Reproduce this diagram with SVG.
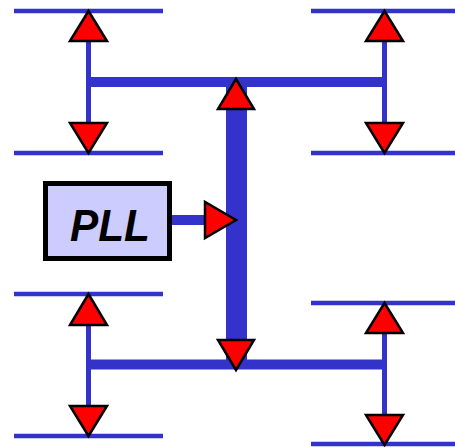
<svg xmlns="http://www.w3.org/2000/svg" width="455" height="447" viewBox="0 0 455 447">
<style>
.bus{stroke:#3333CC;fill:none;stroke-linecap:butt}
.thin{stroke-width:4.5}
.mid{stroke-width:5}
.thick{stroke-width:10}
.trunk{stroke-width:21}
.arr{fill:#FF0000;stroke:#000;stroke-width:2.5;stroke-linejoin:miter}
.box{fill:#CCCCFF;stroke:#000;stroke-width:5}
.lbl{font-family:"Liberation Sans",Arial,sans-serif;font-weight:bold;font-style:italic;font-size:45px;fill:#000}
</style>
<g id="connectors">
<line class="bus thin" x1="14" y1="11" x2="163" y2="11"/>
<line class="bus thin" x1="14" y1="153" x2="163" y2="153"/>
<line class="bus thin" x1="311" y1="11" x2="455" y2="11"/>
<line class="bus thin" x1="311" y1="153" x2="455" y2="153"/>
<line class="bus thin" x1="14" y1="294" x2="163" y2="294"/>
<line class="bus thin" x1="14" y1="436" x2="163" y2="436"/>
<line class="bus thin" x1="311" y1="303" x2="455" y2="303"/>
<line class="bus thin" x1="311" y1="444" x2="455" y2="444"/>
<line class="bus mid" x1="88.5" y1="40" x2="88.5" y2="124"/>
<line class="bus mid" x1="384.5" y1="40" x2="384.5" y2="124"/>
<line class="bus mid" x1="88.5" y1="324" x2="88.5" y2="408"/>
<line class="bus mid" x1="384.5" y1="332" x2="384.5" y2="416"/>
<line class="bus thick" x1="86" y1="82" x2="387" y2="82"/>
<line class="bus thick" x1="86" y1="364.5" x2="387" y2="364.5"/>
<line class="bus trunk" x1="236.5" y1="82" x2="236.5" y2="364"/>
<line class="bus thick" x1="170" y1="220" x2="206" y2="220"/>
<polygon class="arr" points="88.5,11 70,41 107,41"/>
<polygon class="arr" points="88.5,153 70,123 107,123"/>
<polygon class="arr" points="384.5,11 366,41 403,41"/>
<polygon class="arr" points="384.5,153 366,123 403,123"/>
<polygon class="arr" points="88.5,294 70,325 107,325"/>
<polygon class="arr" points="88.5,436 70,406 107,406"/>
<polygon class="arr" points="384.5,303 366,333 403,333"/>
<polygon class="arr" points="384.5,445 366,415 403,415"/>
<polygon class="arr" points="236,79 218,109 254,109"/>
<polygon class="arr" points="236,370 218,340 254,340"/>
<polygon class="arr" points="236,220 205,202 205,238"/>
</g>
<g id="pll">
<rect class="box" x="45.5" y="183.5" width="124" height="75"/>
<text class="lbl" x="110" y="241" text-anchor="middle" textLength="80" lengthAdjust="spacingAndGlyphs">PLL</text>
</g>
</svg>
